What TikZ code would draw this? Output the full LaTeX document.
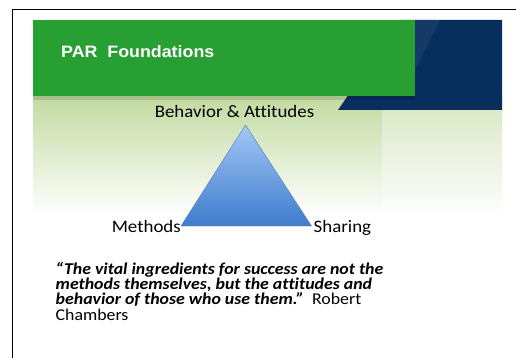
\documentclass[tikz,border=0pt]{standalone}
\usepackage{fontspec}
\setmainfont{Carlito}[FakeStretch=1.08, Ligatures=NoCommon]
\newfontfamily\titelschrift{Liberation Sans}[FakeStretch=1.08]
\usetikzlibrary{positioning}

\definecolor{balkengruen}{RGB}{40,159,50}
\definecolor{dunkelblau}{RGB}{8,46,94}
\definecolor{hellblau}{RGB}{164,199,247}
\definecolor{mittelblau}{RGB}{62,124,204}
\definecolor{randblau}{RGB}{84,122,180}
\definecolor{grundgruen}{RGB}{194,218,160}

\begin{document}
\begin{tikzpicture}[x=1pt,y=-1pt,
    eckentext/.style={inner sep=0pt, text height=13pt, text depth=0pt,
                      font=\fontsize{17.5}{21}\selectfont}]
\useasboundingbox (0,0) rectangle (516,358);

% Rahmen
\draw[line width=1.8pt] (12.5,365) -- (12.5,9.5) -- (525,9.5);

% Hintergrund
\shade[top color=grundgruen, middle color=grundgruen!70!white,
       bottom color=white] (33,96) rectangle (502,215);
\fill[white, opacity=0.35] (382,110) rectangle (502,215);

% Blaue Flaeche
\fill[dunkelblau] (338,110) -- (400,20) -- (502,20) -- (502,110) -- cycle;
\fill[white, opacity=0.06] (400,20) -- (440,20) -- (415,70) -- (372,70) -- cycle;

% Gruener Balken mit Titel
\fill[black, opacity=0.12] (33,96) rectangle (415,100);
\fill[balkengruen] (33,20) rectangle (415,96);
\node[anchor=west, inner sep=0pt, text=white,
      font=\titelschrift\bfseries\fontsize{16.5}{20}\selectfont]
      (titel) at (61,52) {PAR\ \ Foundations};

% Dreieck
\coordinate (spitze) at (245.5,125);
\coordinate (links) at (181,226);
\coordinate (rechts) at (311.5,226);
\shadedraw[top color=hellblau, bottom color=mittelblau, draw=randblau,
           line width=0.4pt] (spitze) -- (links) -- (rechts) -- cycle;

\node[eckentext, above=7pt of spitze, xshift=-11pt] (oben) {Behavior \& Attitudes};
\node[eckentext, left=0pt of links] (methoden) {Methods};
\node[eckentext, right=2pt of rechts] (teilen) {Sharing};

% Zitat
\node[anchor=north west, inner sep=0pt, align=left,
      font=\fontsize{16.5}{15.3}\selectfont]
      (zitat) at (55.5,262)
  {\lineskiplimit=-20pt\relax
   \textbf{\textit{“The vital ingredients for success are not the}}\\
   \textbf{\textit{methods themselves, but the attitudes and}}\\
   \textbf{\textit{behavior of those who use them.”}}\ \ Robert\\
   Chambers};

\end{tikzpicture}
\end{document}
